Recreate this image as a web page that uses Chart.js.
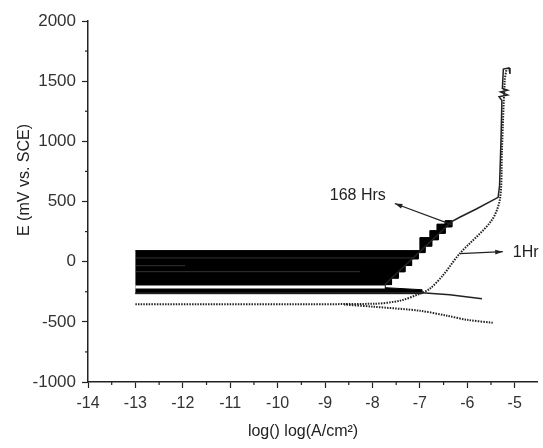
<!DOCTYPE html>
<html>
<head>
<meta charset="utf-8">
<script src="https://cdn.jsdelivr.net/npm/chart.js@4/dist/chart.umd.min.js"></script>
<style>
  html, body { margin: 0; padding: 0; background: #fff; }
</style>
</head>
<body>
<canvas id="polChart" width="543" height="448"></canvas>
<script>
// --- data (log i, E in mV vs SCE) ---
const xTicks = [-14, -13, -12, -11, -10, -9, -8, -7, -6, -5];
const yTicks = [-1000, -500, 0, 500, 1000, 1500, 2000];

// noisy 168 Hrs region (current flips sign, log floor at -13), envelope
const blockX = [-13, -7.0, -7.0, -6.79, -6.79, -6.64, -6.64, -6.47, -6.47, -6.327,
    -6.327, -6.468, -6.468, -6.61, -6.61, -6.751, -6.751, -6.892, -6.892, -7.033,
    -7.033, -7.175, -7.175, -7.316, -7.316, -7.457, -7.457, -7.598, -7.598, -7.739,
    -7.739, -6.96, -6.96, -13];
const blockY = [92, 92, 200, 200, 258, 258, 312, 312, 341, 341,
    288, 288, 235, 235, 181, 181, 128, 128, 75, 75,
    22, 22, -32, -32, -85, -85, -138, -138, -191, -191,
    -216, -233, -266, -266];

// thin traces showing through the black region
const stripeY = [31, -33, -83];
const stripeEnd = [-7.15, -11.95, -8.26];
const whiteStripeX = [-13, -7.74];
const whiteStripeY = [-210, -210];

// 168 Hrs (solid)
const h168X = [-7.74, -6.33, -6.16, -5.81, -5.35, -5.32, -5.29, -5.27, -5.33, -5.15, -5.30, -5.15, -5.26, -5.24, -5.12, -5.10];
const h168Y = [-191, 333, 369, 438, 535, 632, 1007, 1339, 1370, 1385, 1410, 1425, 1440, 1600, 1610, 1560];
const h168CathX = [-13, -6.96, -6.37, -5.69];
const h168CathY = [-262, -258, -275, -308];

// 1Hr (dotted)
const h1UpX = [-13, -7.99, -7.42, -7.0, -6.79, -6.52, -6.16, -5.49, -5.31, -5.27, -5.21, -5.17];
const h1UpY = [-354, -350, -324, -266, -225, -116, 67, 341, 524, 923, 1506, 1606];
const h1LowX = [-8.6, -7.99, -7.0, -6.43, -6.01, -5.46];
const h1LowY = [-356, -374, -408, -449, -483, -508];

function pts(xs, ys) {
    return xs.map((x, i) => ({ x: x, y: ys[i] }));
}

const ink = '#222';
const font = 'Liberation Sans, Arial, sans-serif';

const datasets = [
    {
        data: pts(blockX, blockY), order: 10,
        borderColor: '#000', backgroundColor: '#000', borderWidth: 1, fill: 'shape'
    },
    ...stripeY.map((y, i) => ({
        data: pts([-13, stripeEnd[i]], [y, y]), order: 5,
        borderColor: 'rgba(80,80,80,0.9)', borderWidth: 0.7, fill: false
    })),
    {
        data: pts(whiteStripeX, whiteStripeY), order: 5,
        borderColor: '#fff', borderWidth: 3, fill: false
    },
    {
        data: pts(h168X, h168Y),
        borderColor: ink, borderWidth: 1.5, fill: false
    },
    {
        data: pts(h168CathX, h168CathY),
        borderColor: ink, borderWidth: 1.5, fill: false
    },
    {
        data: pts(h1UpX, h1UpY),
        borderColor: ink, borderWidth: 2, borderDash: [1.5, 1.2], fill: false, tension: 0.3
    },
    {
        data: pts(h1LowX, h1LowY),
        borderColor: ink, borderWidth: 2, borderDash: [1.5, 1.2], fill: false, tension: 0.3
    }
];

// labels with arrows, minor ticks and axis titles
const decorPlugin = {
    id: 'decor',
    afterDraw(chart) {
        const c = chart.ctx;
        const xs = chart.scales.x, ys = chart.scales.y;
        const area = chart.chartArea;
        c.save();
        c.strokeStyle = ink;
        c.lineWidth = 1.2;
        // minor ticks
        for (let v = -13.5; v < -4.5; v += 1) {
            const px = xs.getPixelForValue(v);
            c.beginPath(); c.moveTo(px, area.bottom); c.lineTo(px, area.bottom + 3); c.stroke();
        }
        for (let v = -750; v < 2000; v += 500) {
            const py = ys.getPixelForValue(v);
            c.beginPath(); c.moveTo(area.left, py); c.lineTo(area.left - 3, py); c.stroke();
        }

        function arrow(x0, y0, x1, y1) {
            const a = xs.getPixelForValue(x0), b = ys.getPixelForValue(y0);
            const d = xs.getPixelForValue(x1), e = ys.getPixelForValue(y1);
            const ang = Math.atan2(e - b, d - a);
            c.beginPath(); c.moveTo(a, b); c.lineTo(d, e); c.stroke();
            c.beginPath();
            c.moveTo(d, e);
            c.lineTo(d - 8 * Math.cos(ang - 0.3), e - 8 * Math.sin(ang - 0.3));
            c.lineTo(d - 8 * Math.cos(ang + 0.3), e - 8 * Math.sin(ang + 0.3));
            c.closePath();
            c.fillStyle = ink; c.fill();
        }
        arrow(-6.33, 308, -7.53, 483);
        arrow(-6.16, 67, -5.25, 83);

        c.fillStyle = ink;
        c.font = '16px ' + font;
        c.textBaseline = 'middle';
        c.textAlign = 'center';
        c.fillText('168 Hrs', xs.getPixelForValue(-8.31), ys.getPixelForValue(549));
        c.textAlign = 'left';
        c.fillText('1Hr', xs.getPixelForValue(-5.04), ys.getPixelForValue(75));

        // axis titles
        c.textAlign = 'center';
        c.fillText('log() log(A/cm²)', 303, 432);
        c.translate(25, 180);
        c.rotate(-Math.PI / 2);
        c.fillText('E (mV vs. SCE)', 0, 0);
        c.restore();
    }
};

new Chart(document.getElementById('polChart'), {
    type: 'scatter',
    data: { datasets: datasets },
    options: {
        responsive: false,
        animation: false,
        showLine: true,
        elements: { point: { radius: 0 }, line: { tension: 0 } },
        layout: { padding: { top: 21, right: 6, left: 0, bottom: 0 } },
        plugins: { legend: { display: false }, tooltip: { enabled: false } },
        scales: {
            x: {
                type: 'linear', min: -14, max: -4.53,
                afterBuildTicks: s => { s.ticks = xTicks.map(v => ({ value: v })); },
                afterFit: s => { s.height = 66; },
                border: { color: ink, width: 1.5 },
                grid: { drawOnChartArea: false, tickLength: 6, tickColor: ink, tickWidth: 1.2 },
                ticks: { color: '#333', font: { family: font, size: 16 }, padding: 6, maxRotation: 0,
                         callback: v => String(v) }
            },
            y: {
                type: 'linear', min: -1000, max: 2000,
                afterBuildTicks: s => { s.ticks = yTicks.map(v => ({ value: v })); },
                afterFit: s => { s.width = 88; },
                border: { color: ink, width: 1.5 },
                grid: { drawOnChartArea: false, tickLength: 6, tickColor: ink, tickWidth: 1.2 },
                ticks: { color: '#333', font: { family: font, size: 17 }, padding: 6,
                         callback: v => String(v) }
            }
        }
    },
    plugins: [decorPlugin]
});
</script>
</body>
</html>
